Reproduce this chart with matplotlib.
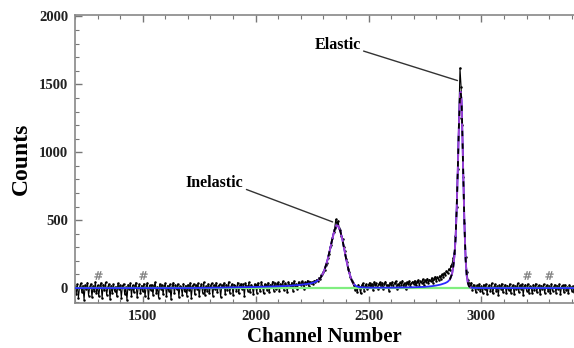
import numpy as np
import matplotlib
matplotlib.use('Agg')
import matplotlib.pyplot as plt
from matplotlib.ticker import MultipleLocator

# measured spectrum, 5-channel steps starting at channel 1200 (one row = 100 channels)
counts = [
    12, -45, 28, -70, 5, 35, -30, 18, -85, 22, -10, 40, -55, 8, 30, -65, 15, -25, 45, -40,      # 1200
    20, -60, 10, 38, -75, 25, -15, 42, -50, 5, 30, -80, 18, -35, 28, -20, 10, -60, 35, -5,      # 1300
    22, -70, 15, 30, -45, 8, -88, 25, -10, 35, -55, 20, -30, 12, 40, -65, 5, 28, -40, 18,       # 1400
    -25, 32, -60, 10, 38, -75, 20, -15, 25, -50, 15, 42, -35, 8, -70, 30, -5, 22, -45, 12,      # 1500
    35, -60, 18, -20, 28, -80, 10, 40, -40, 22, -10, 30, -65, 15, 5, -50, 32, -25, 18, -55,     # 1600
    25, -15, 38, -70, 12, 30, -45, 20, -5, 35, -60, 10, 28, -35, 42, -50, 15, -20, 30, -40,     # 1700
    18, 35, -55, 22, -10, 40, -30, 12, 28, -65, 20, 5, 38, -45, 25, -15, 45, -35, 10, 30,       # 1800
    -50, 25, 15, -25, 40, -40, 20, 32, -10, 28, -55, 35, 12, -20, 42, -30, 25, 8, -45, 30,      # 1900
    20, -35, 38, 10, -25, 45, 15, -40, 30, 22, -15, 40, -30, 25, 12, 48, -20, 35, -10, 28,      # 2000
    42, -25, 30, 15, 50, -15, 35, 20, -30, 45, 25, 5, 40, -20, 52, 18, 30, -10, 45, 28,         # 2100
    20, 50, 35, -5, 45, 30, 55, 15, 48, 38, 45, 30, 55, 48, 62, 55, 75, 70, 95, 100,            # 2200
    120, 135, 170, 185, 225, 250, 300, 320, 370, 410, 440, 505, 470, 495, 440, 425, 385, 360, 300, 270,  # 2300
    215, 190, 140, 115, 80, 55, 40, 20, -15, 10, -30, 25, 5, -40, 20, 35, -20, 15, 30, -10,     # 2400
    25, 40, 5, 30, -15, 45, 20, 35, -5, 28, 42, 10, 38, -10, 30, 48, 15, 25, -20, 40,           # 2500
    22, 45, 8, 35, 50, -5, 30, 18, 42, 25, 55, 10, 38, -8, 45, 28, 52, 15, 35, 48,              # 2600
    30, 55, 20, 45, 60, 15, 50, 38, 65, 25, 58, 45, 70, 35, 62, 50, 75, 40, 68, 85,             # 2700
    55, 80, 60, 90, 70, 100, 85, 110, 95, 125, 110, 140, 130, 165, 175, 220, 260, 380, 600, 880,  # 2800
    1250, 1620, 1480, 1200, 820, 480, 230, 120, 60, 35, 10, 40, -15, 25, 5, -30, 20, -10, 30, -25,  # 2900
    15, -35, 25, -10, 30, -45, 10, 20, -25, 35, -40, 5, 28, -20, 15, -50, 22, -5, 32, -30,      # 3000
    10, 25, -40, 18, -15, 30, -35, 8, 22, -45, 15, -10, 35, -30, 20, -5, 28, -50, 12, 25,       # 3100
    -20, 30, -35, 15, 5, -40, 25, -15, 32, -30, 10, 20, -45, 18, -10, 28, -35, 8, 22, -25,      # 3200
    15, -40, 30, -20, 10, 25, -35, 18, -10, 28, -45, 12, 20, -30, 25, -15, 8, -40, 22, 5,       # 3300
    -20, 15, -30,                                                                               # 3400
]
channels = 1200 + 5 * np.arange(len(counts))

# total fit (background + two peaks)
fit_ch = [1200, 1700, 1800, 1900, 2000, 2100, 2150, 2200, 2240, 2260, 2270, 2280, 2290,
          2300, 2310, 2320, 2330, 2340, 2350, 2358, 2365, 2375, 2385, 2395, 2405, 2415,
          2425, 2435, 2445, 2460, 2500, 2600, 2700, 2750, 2780, 2800, 2820, 2840, 2850,
          2860, 2870, 2875, 2880, 2885, 2890, 2895, 2900, 2905, 2908, 2912, 2915, 2920,
          2925, 2930, 2935, 2940, 2945, 2950, 2960, 3000, 3410]
fit_val = [0, 0, 2, 5, 8, 13, 17, 24, 33, 42, 50, 62, 82,
           113, 160, 218, 290, 365, 430, 462, 458, 420, 350, 265, 180, 110,
           60, 30, 14, 6, 3, 3, 6, 9, 14, 19, 26, 37, 46,
           62, 105, 155, 230, 350, 560, 850, 1180, 1420, 1445, 1380, 1180, 800,
           450, 210, 90, 38, 14, 5, 1, 0, 0]

# odd markers above the baseline
mark_ch = [1300, 1500, 3200, 3300]
mark_val = [95, 95, 95, 95]

fig = plt.figure(figsize=(5.74, 3.48), dpi=100)
ax = fig.add_axes([0.1307, 0.1293, 0.8693, 0.828])

ax.plot(channels, counts, color='black', lw=0.8, zorder=2)
ax.plot(channels, counts, ls='none', marker='.', ms=1.6, color='black', zorder=2)
ax.plot(mark_ch, mark_val, ls='none', marker=r'$\#$', ms=6, mew=0.2, color='#777777', zorder=2)

ax.axhline(0, color='#80ee80', lw=1.6, zorder=3)
ax.plot(fit_ch, fit_val, color='#2a2aff', lw=1.3, zorder=4)

fc = np.array(fit_ch)
fv = np.array(fit_val)
for lo, hi in [(2280, 2440), (2860, 2950)]:
    sel = (fc >= lo) & (fc <= hi)
    ax.plot(fc[sel], fv[sel], color='#a040d0', lw=1.3, zorder=5)
    ax.plot(fc[sel], fv[sel], color='black', lw=1.3, ls=(0, (3, 4)), zorder=6)

ax.set_xlim(1200, 3410)
ax.set_ylim(-110, 2012)

ax.xaxis.set_major_locator(MultipleLocator(500))
ax.xaxis.set_minor_locator(MultipleLocator(100))
ax.yaxis.set_major_locator(MultipleLocator(500))
ax.yaxis.set_minor_locator(MultipleLocator(100))
ax.tick_params(which='both', direction='in', top=True, right=False, color='#777777')
ax.tick_params(which='major', length=5, width=1, pad=5)
ax.tick_params(which='minor', length=3, width=0.8)
for s in ['left', 'bottom', 'top']:
    ax.spines[s].set_color('#888888')
    ax.spines[s].set_linewidth(1.2)
ax.spines['right'].set_visible(False)

for lab in ax.get_xticklabels() + ax.get_yticklabels():
    lab.set_family('Liberation Serif')
    lab.set_weight('bold')
    lab.set_fontsize(10.5)
    lab.set_color('#222222')

ax.set_xlabel('Channel Number', family='Liberation Serif', weight='bold', fontsize=15, labelpad=3)
ax.set_ylabel('Counts', family='Liberation Serif', weight='bold', fontsize=17, labelpad=5)

ax.annotate('Elastic', xy=(2894, 1528), xytext=(2363, 1793),
            ha='center', va='center', family='Liberation Serif', weight='bold', fontsize=11.5,
            arrowprops=dict(arrowstyle='-', color='#333333', lw=1, relpos=(1.0, 0.15),
                            shrinkA=0, shrinkB=0))
ax.annotate('Inelastic', xy=(2341, 487), xytext=(1819, 775),
            ha='center', va='center', family='Liberation Serif', weight='bold', fontsize=11.5,
            arrowprops=dict(arrowstyle='-', color='#333333', lw=1, relpos=(1.0, 0.15),
                            shrinkA=0, shrinkB=0))

plt.savefig('out.png', dpi=100)
